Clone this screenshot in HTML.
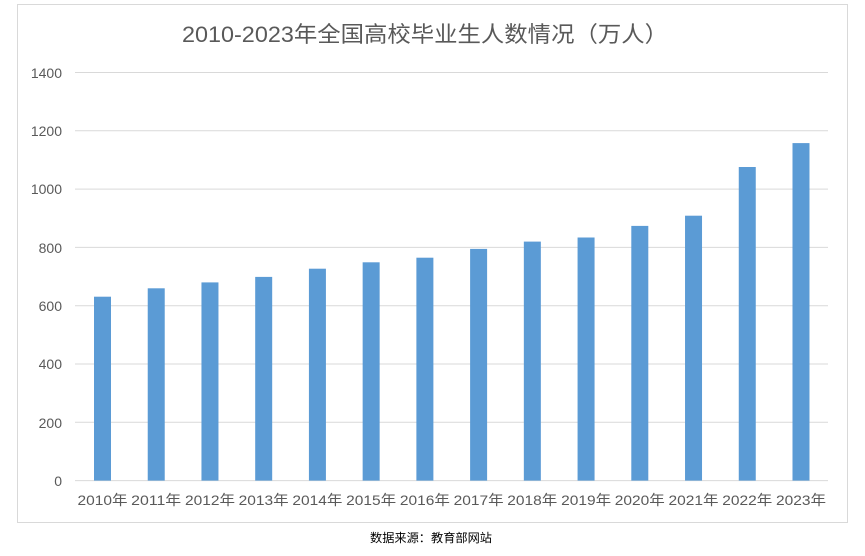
<!DOCTYPE html>
<html><head><meta charset="utf-8"><style>
html,body{margin:0;padding:0;background:#fff;}
svg{display:block;}
text{font-family:"Liberation Sans","Noto Sans CJK SC",sans-serif;}
</style></head><body>
<svg width="865" height="556" viewBox="0 0 865 556" xmlns="http://www.w3.org/2000/svg">
<rect x="17.5" y="4.5" width="830" height="518" fill="#fff" stroke="#d9d9d9" stroke-width="1"/>
<text x="425" y="42" font-size="22" fill="#595959" text-anchor="middle" textLength="486" lengthAdjust="spacingAndGlyphs">2010-2023年全国高校毕业生人数情况（万人）</text>
<g stroke="#d9d9d9" stroke-width="1">
<line x1="75" x2="828" y1="72.5" y2="72.5"/>
<line x1="75" x2="828" y1="130.8" y2="130.8"/>
<line x1="75" x2="828" y1="189.1" y2="189.1"/>
<line x1="75" x2="828" y1="247.4" y2="247.4"/>
<line x1="75" x2="828" y1="305.7" y2="305.7"/>
<line x1="75" x2="828" y1="364" y2="364"/>
<line x1="75" x2="828" y1="422.3" y2="422.3"/>
<line x1="75" x2="828" y1="480.6" y2="480.6"/>
</g>
<g font-size="14" fill="#595959" text-anchor="end">
<text x="62" y="78">1400</text>
<text x="62" y="136">1200</text>
<text x="62" y="194">1000</text>
<text x="62" y="253">800</text>
<text x="62" y="311">600</text>
<text x="62" y="369">400</text>
<text x="62" y="428">200</text>
<text x="62" y="486">0</text>
</g>
<g fill="#5b9bd5">
<rect x="94" y="296.7" width="17" height="183.9"/>
<rect x="147.73" y="288.3" width="17" height="192.3"/>
<rect x="201.46" y="282.4" width="17" height="198.2"/>
<rect x="255.19" y="276.9" width="17" height="203.7"/>
<rect x="308.92" y="268.7" width="17" height="211.9"/>
<rect x="362.65" y="262.3" width="17" height="218.3"/>
<rect x="416.38" y="257.7" width="17" height="222.9"/>
<rect x="470.11" y="248.9" width="17" height="231.7"/>
<rect x="523.84" y="241.6" width="17" height="239.0"/>
<rect x="577.57" y="237.5" width="17" height="243.1"/>
<rect x="631.3" y="225.9" width="17" height="254.7"/>
<rect x="685.03" y="215.7" width="17" height="264.9"/>
<rect x="738.76" y="167.0" width="17" height="313.6"/>
<rect x="792.49" y="143.1" width="17" height="337.5"/>
</g>
<g font-size="14" fill="#595959" text-anchor="middle">
<text x="102.5" y="505" textLength="50" lengthAdjust="spacingAndGlyphs">2010年</text>
<text x="156.2" y="505" textLength="50" lengthAdjust="spacingAndGlyphs">2011年</text>
<text x="210" y="505" textLength="50" lengthAdjust="spacingAndGlyphs">2012年</text>
<text x="263.7" y="505" textLength="50" lengthAdjust="spacingAndGlyphs">2013年</text>
<text x="317.4" y="505" textLength="50" lengthAdjust="spacingAndGlyphs">2014年</text>
<text x="371.2" y="505" textLength="50" lengthAdjust="spacingAndGlyphs">2015年</text>
<text x="424.9" y="505" textLength="50" lengthAdjust="spacingAndGlyphs">2016年</text>
<text x="478.6" y="505" textLength="50" lengthAdjust="spacingAndGlyphs">2017年</text>
<text x="532.3" y="505" textLength="50" lengthAdjust="spacingAndGlyphs">2018年</text>
<text x="586.1" y="505" textLength="50" lengthAdjust="spacingAndGlyphs">2019年</text>
<text x="639.8" y="505" textLength="50" lengthAdjust="spacingAndGlyphs">2020年</text>
<text x="693.5" y="505" textLength="50" lengthAdjust="spacingAndGlyphs">2021年</text>
<text x="747.3" y="505" textLength="50" lengthAdjust="spacingAndGlyphs">2022年</text>
<text x="801" y="505" textLength="50" lengthAdjust="spacingAndGlyphs">2023年</text>
</g>
<text x="431" y="542" font-size="12" fill="#000" text-anchor="middle" textLength="122" lengthAdjust="spacingAndGlyphs">数据来源：教育部网站</text>
</svg>
</body></html>
